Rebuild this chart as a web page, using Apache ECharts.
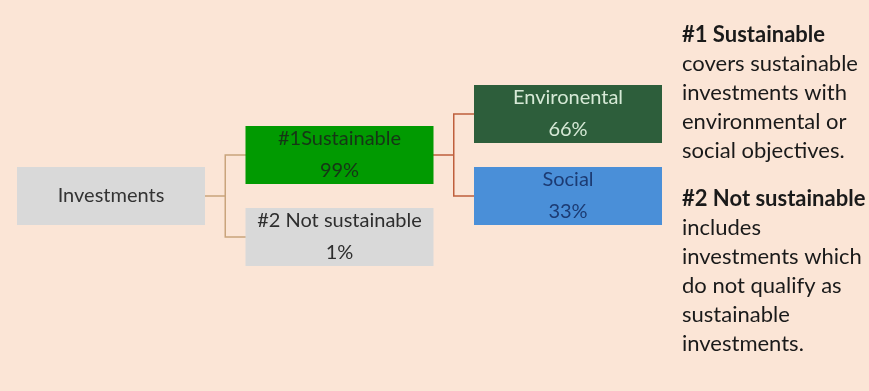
<!DOCTYPE html>
<html>
<head>
<meta charset="utf-8">
<script src="https://cdn.jsdelivr.net/npm/echarts@6/dist/echarts.min.js"></script>
<style>
  html, body { margin: 0; padding: 0; background: #fbe5d6; }
  #chart { width: 869px; height: 391px; }
</style>
</head>
<body>
<div id="chart"></div>
<script>
// ---- data ----
const rootName = 'Investments';
const level1Names = ['#1Sustainable', '#2 Not sustainable'];
const level1Values = [99, 1];
const level2Names = ['Environental', 'Social'];
const level2Values = [66, 33];
const noteTitles = ['#1 Sustainable', '#2 Not sustainable'];
const noteBodies = [
  ['covers sustainable', 'investments with', 'environmental or', 'social objectives.'],
  ['includes', 'investments which', 'do not qualify as', 'sustainable', 'investments.']
];

// ---- styles ----
const FONT = 'Lato';
const grayBox = '#d9d9d9';
const level1Styles = [
  { fill: '#019a01', text: '#163516' },
  { fill: grayBox, text: '#2e2e2e' }
];
const level2Styles = [
  { fill: '#2d5e3b', text: '#d6e9d6' },
  { fill: '#4a8fd8', text: '#1c3b73' }
];
const rootEdgeColor = '#c9a47c';
const level1EdgeColor = '#bf5f3c';

function buildTree() {
  const kids2 = level2Names.map((n, i) => ({
    name: n, value: level2Values[i],
    itemStyle: { color: level2Styles[i].fill },
    label: { color: level2Styles[i].text }
  }));
  const kids1 = level1Names.map((n, i) => {
    const node = {
      name: n, value: level1Values[i],
      itemStyle: { color: level1Styles[i].fill },
      label: { color: level1Styles[i].text }
    };
    if (i === 0) {
      node.children = kids2;
      node.lineStyle = { color: level1EdgeColor };
    }
    return node;
  });
  return [{
    name: rootName,
    itemStyle: { color: grayBox },
    label: { color: '#333333' },
    lineStyle: { color: rootEdgeColor },
    children: kids1
  }];
}

const labelCfg = {
  show: true,
  position: 'inside',
  fontFamily: FONT,
  fontSize: 20,
  lineHeight: 32,
  align: 'center',
  verticalAlign: 'middle',
  formatter: p => (typeof p.value === 'number' ? p.name + '\n' + p.value + '%' : p.name)
};

const common = {
  type: 'tree',
  orient: 'LR',
  layout: 'orthogonal',
  left: 111, right: 301, top: 32, bottom: 72,
  symbol: 'rect',
  symbolSize: [188, 58],
  edgeShape: 'polyline',
  edgeForkPosition: '50%',
  expandAndCollapse: false,
  initialTreeDepth: -1,
  roam: false,
  silent: true,
  animation: false,
  emphasis: { disabled: true }
};

const edgeSeries = Object.assign({}, common, {
  z: 1,
  data: buildTree(),
  itemStyle: { opacity: 0, borderWidth: 0 },
  label: { show: false },
  leaves: { label: { show: false }, itemStyle: { opacity: 0, borderWidth: 0 } },
  lineStyle: { width: 1.5, curveness: 0 }
});

const boxSeries = Object.assign({}, common, {
  z: 2,
  data: buildTree(),
  itemStyle: { borderWidth: 0 },
  label: labelCfg,
  leaves: { label: labelCfg, itemStyle: { borderWidth: 0 } },
  lineStyle: { width: 0, opacity: 0 }
});

function noteText(title, body) {
  return '{t|' + title + '}\n' + body.map(l => '{n|' + l + '}').join('\n');
}

const noteRich = {
  t: { fontFamily: FONT, fontSize: 22, fontWeight: 'bold', fill: '#1a1a1a', lineHeight: 29 },
  n: { fontFamily: FONT, fontSize: 22, fill: '#1a1a1a', lineHeight: 29 }
};

const chart = echarts.init(document.getElementById('chart'));
chart.setOption({
  backgroundColor: '#fbe5d6',
  animation: false,
  graphic: [
    { type: 'text', left: 682, top: 20, silent: true,
      style: { text: noteText(noteTitles[0], noteBodies[0]), rich: noteRich, lineHeight: 29, fill: '#1a1a1a', font: '22px ' + FONT } },
    { type: 'text', left: 682, top: 184, silent: true,
      style: { text: noteText(noteTitles[1], noteBodies[1]), rich: noteRich, lineHeight: 29, fill: '#1a1a1a', font: '22px ' + FONT } }
  ],
  series: [edgeSeries, boxSeries]
});
</script>
</body>
</html>
